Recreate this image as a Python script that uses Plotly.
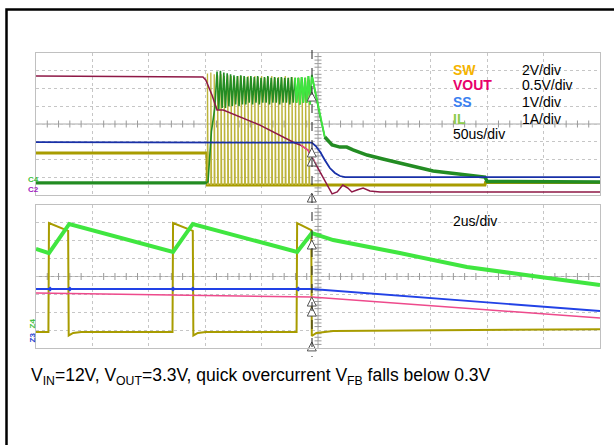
import plotly.graph_objects as go

W, H = 614, 445

# ---------------- data (time and amplitude in scope divisions) ----------------
# Upper window, 50us/div
TOP_VOUT_T = [0, 2.96, 3.01, 3.12, 3.21, 3.32, 3.97, 4.59, 4.70, 4.82, 4.95, 5.07, 5.16, 5.25,
              5.34, 5.44, 5.53, 5.60, 5.69, 5.80, 5.92, 6.10, 10]
TOP_VOUT_V = [6.70, 6.65, 6.48, 5.63, 4.79, 4.79, 3.94, 2.93, 2.80, 2.54, 1.80, 1.13, 0.56, 0.06,
              0.17, 0.56, 0.39, 0.17, 0.28, 0.39, 0.23, 0.17, 0.17]

TOP_SS_T = [0, 4.89, 4.96, 5.04, 5.12, 5.21, 5.30, 5.39, 5.48, 10]
TOP_SS_V = [2.98, 2.95, 2.76, 2.42, 1.97, 1.52, 1.24, 1.07, 1.01, 1.01]

TOP_SW_BASE_T = [0, 3.03, 3.04, 7.96, 7.97, 10]
TOP_SW_BASE_V = [2.37, 2.37, 0.56, 0.56, 0.70, 0.70]
SW_PULSE_T = [3.04, 3.10, 3.16, 3.22, 3.28, 3.34, 3.40, 3.46, 3.52, 3.58, 3.64, 3.70, 3.76,
              3.82, 3.88, 3.94, 4.00, 4.06, 4.12, 4.18, 4.24, 4.30, 4.36, 4.42, 4.48, 4.54,
              4.60, 4.66, 4.72, 4.78, 4.84]
SW_PULSE_HI = [6.85, 6.90, 6.80, 6.75, 6.80, 6.70, 6.75, 6.70, 6.65, 6.70, 6.70, 6.65, 6.70,
               6.60, 6.70, 6.65, 6.70, 6.60, 6.65, 6.70, 6.60, 6.65, 6.60, 6.70, 6.60, 6.65,
               6.60, 6.60, 6.55, 6.60, 6.50]
SW_PULSE_LO = 0.56

TOP_IL_PRE_T = [0, 3.02, 3.05, 3.11, 3.17]
TOP_IL_PRE_V = [0.68, 0.68, 0.75, 3.57, 4.90]
IL_PEAK_T = [3.21, 3.27, 3.33, 3.39, 3.45, 3.51, 3.57, 3.63, 3.69, 3.75, 3.81, 3.87, 3.93, 3.99,
             4.05, 4.11, 4.17, 4.23, 4.29, 4.35, 4.41, 4.47, 4.53, 4.59, 4.65, 4.71, 4.77, 4.83, 4.89]
IL_PEAK_V = [6.95, 7.00, 6.90, 6.85, 6.80, 6.75, 6.70, 6.75, 6.70, 6.65, 6.70, 6.65, 6.70, 6.60,
             6.65, 6.70, 6.60, 6.65, 6.60, 6.65, 6.60, 6.60, 6.65, 6.60, 6.60, 6.65, 6.60, 6.70, 6.76]
IL_VALLEY_T = [3.24, 3.30, 3.36, 3.42, 3.48, 3.54, 3.60, 3.66, 3.72, 3.78, 3.84, 3.90, 3.96, 4.02,
               4.08, 4.14, 4.20, 4.26, 4.32, 4.38, 4.44, 4.50, 4.56, 4.62, 4.68, 4.74, 4.80, 4.86]
IL_VALLEY_V = [4.80, 4.90, 4.90, 5.00, 5.00, 5.10, 5.00, 5.10, 5.10, 5.20, 5.10, 5.20, 5.10, 5.20,
               5.20, 5.10, 5.20, 5.20, 5.10, 5.20, 5.20, 5.10, 5.20, 5.20, 5.10, 5.20, 5.20, 5.10]
TOP_IL_POST_T = [5.04, 5.12, 5.25, 5.39, 5.51, 5.62, 5.87, 6.15, 6.45, 6.76, 7.04, 7.34, 7.64, 7.96, 8.00, 10]
TOP_IL_POST_V = [4.39, 3.27, 2.82, 2.70, 2.70, 2.54, 2.25, 2.03, 1.80, 1.58, 1.35, 1.24, 1.13, 1.01, 0.76, 0.73]

ZOOM_WIN = [4.70, 5.10]   # part of the upper window shown below
CURSOR_T = 4.89
CURSOR_TOP = [5.80, 2.65, 2.14, 0.11]
CURSOR_BOT = [6.04, 2.85, 2.29, 0.34]

# Lower window, 2us/div
BOT_IL_T = [0, 0.23, 0.59, 2.43, 2.78, 4.63, 4.89, 5.27, 6.45, 7.64, 8.81, 10]
BOT_IL_V = [5.54, 5.31, 6.94, 5.37, 6.94, 5.37, 6.43, 6.04, 5.31, 4.53, 4.03, 3.52]

BOT_SW_T = [0, 0.22, 0.23, 0.35, 0.57, 0.58, 0.66, 0.80, 2.42, 2.43, 2.55, 2.78, 2.79,
            2.87, 3.01, 4.62, 4.63, 4.73, 4.88, 4.89, 4.97, 5.27, 6.45, 10]
BOT_SW_V = [0.90, 0.90, 6.99, 6.85, 6.55, 0.70, 0.84, 0.90, 0.90, 6.99, 6.85, 6.55, 0.70,
            0.84, 0.90, 0.90, 6.99, 6.85, 6.60, 0.67, 0.84, 0.95, 0.98, 1.05]

BOT_SS_T = [0, 4.89, 10]
BOT_SS_V = [3.30, 3.30, 2.07]
SS_MARK_T = [0.25, 0.60, 2.43, 2.78, 4.65]

BOT_VOUT_T = [0, 4.89, 10]
BOT_VOUT_V = [3.08, 2.85, 1.68]

LEGEND_NAMES = ["SW", "VOUT", "SS", "IL"]
LEGEND_SCALES = ["2V/div", "0.5V/div", "1V/div", "1A/div"]
TOP_TIMEBASE = "50us/div"
BOT_TIMEBASE = "2us/div"
CAPTION = "V<sub>IN</sub>=12V, V<sub>OUT</sub>=3.3V, quick overcurrent V<sub>FB</sub> falls below 0.3V"

# ---------------- styling ----------------
C_SW = "#A89C00"
C_SW_PULSE = "#BDB43A"
C_VOUT_TOP = "#8E1846"
C_VOUT = "#EE4A8C"
C_SS_TOP = "#1830A8"
C_SS = "#2242E6"
C_IL_TOP = "#238C23"
C_IL = "#40E640"
LEG_COLORS = ["#F5B400", "#E8006A", "#3A80F0", "#8CCB4A"]
FONT = "Liberation Sans, Arial, sans-serif"

def px_x(p):
    return p / W

def px_y(p):
    return 1 - p / H

XDOM = [px_x(36), px_x(600)]
TOP_DOM = [px_y(195), px_y(53)]
BOT_DOM = [px_y(348), px_y(205)]

fig = go.Figure()

def window(ts, vs, lo, hi):
    xs, ys = [], []
    for i, t in enumerate(ts):
        if lo - 0.13 <= t <= hi + 0.05:
            xs.append(t)
            ys.append(vs[i])
    return xs, ys

def add(x, y, color, width, axis="top", mode="lines", **kw):
    fig.add_trace(go.Scatter(x=x, y=y, mode=mode, line=dict(color=color, width=width),
                             xaxis="x" if axis == "top" else "x2",
                             yaxis="y" if axis == "top" else "y2",
                             hoverinfo="skip", showlegend=False, **kw))

# decorations: center cross with minor ticks
for ax in ("top", "bot"):
    xr, yr = ("x", "y") if ax == "top" else ("x2", "y2")
    fig.add_shape(type="line", xref=xr, yref=yr, x0=0, x1=10, y0=4, y1=4,
                  line=dict(color="#A8A8A8", width=1), layer="below")
    fig.add_shape(type="line", xref=xr, yref=yr, x0=5, x1=5, y0=0, y1=8,
                  line=dict(color="#A8A8A8", width=1), layer="below")
    tx = [i * 0.2 for i in range(1, 50) if i % 5]
    ty = [i * 0.2 for i in range(1, 40) if i % 5]
    add(tx, [4] * len(tx), "#999", 1, ax, mode="markers",
        marker=dict(symbol="line-ns", size=5, line=dict(color="#9A9A9A", width=1)))
    add([5] * len(ty), ty, "#999", 1, ax, mode="markers",
        marker=dict(symbol="line-ew", size=5, line=dict(color="#9A9A9A", width=1)))

# ---- upper window traces ----
add(TOP_SW_BASE_T, TOP_SW_BASE_V, C_SW, 3)
px, py = [], []
for t, h in zip(SW_PULSE_T, SW_PULSE_HI):
    px += [t, t, t + 0.012, t + 0.012, None]
    py += [SW_PULSE_LO, h, h, SW_PULSE_LO, None]
add(px, py, C_SW_PULSE, 1.3)

il_t = list(TOP_IL_PRE_T)
il_v = list(TOP_IL_PRE_V)
for i in range(len(IL_PEAK_T)):
    il_t.append(IL_PEAK_T[i]); il_v.append(IL_PEAK_V[i])
    if i < len(IL_VALLEY_T):
        il_t.append(IL_VALLEY_T[i]); il_v.append(IL_VALLEY_V[i])
il_t += TOP_IL_POST_T
il_v += TOP_IL_POST_V
add(TOP_IL_PRE_T[:2], TOP_IL_PRE_V[:2], C_IL_TOP, 3.2)
add(il_t, il_v, C_IL_TOP, 1.6)
# thicker band after the burst
add(TOP_IL_POST_T[1:], TOP_IL_POST_V[1:], C_IL_TOP, 3.5)
wx, wy = window(il_t, il_v, *ZOOM_WIN)
add(wx, wy, C_IL, 1.8)

add(TOP_VOUT_T, TOP_VOUT_V, C_VOUT_TOP, 1.5)
wx, wy = window(TOP_VOUT_T, TOP_VOUT_V, ZOOM_WIN[0] + 0.12, ZOOM_WIN[1] - 0.1)
add(wx, wy, C_VOUT, 1.5)
add(TOP_SS_T, TOP_SS_V, C_SS_TOP, 1.8)

# ---- lower window traces ----
add(BOT_SW_T, BOT_SW_V, C_SW, 2, "bot")
add(BOT_IL_T, BOT_IL_V, C_IL, 4, "bot")
add(BOT_VOUT_T, BOT_VOUT_V, C_VOUT, 1.5, "bot")
add(BOT_SS_T, BOT_SS_V, C_SS, 1.8, "bot")
add(SS_MARK_T, [BOT_SS_V[0]] * len(SS_MARK_T), C_SS, 1, "bot", mode="markers",
    marker=dict(symbol="diamond", size=4, color=C_SS))

# cursor
fig.add_shape(type="line", xref="paper", yref="paper", x0=px_x(312), x1=px_x(312),
              y0=px_y(50), y1=px_y(357), line=dict(color="#222", width=1, dash="dash"))
arrow = dict(symbol="arrow-up", size=9, color="white", line=dict(color="#555", width=1))
add([CURSOR_T] * 4, CURSOR_TOP, "#555", 1, "top", mode="markers", marker=arrow, cliponaxis=False)
add([CURSOR_T] * 4, CURSOR_BOT, "#555", 1, "bot", mode="markers", marker=arrow, cliponaxis=False)

# channel markers
add([10.09], [2.14], "#E8006A", 1, "top", mode="markers",
    marker=dict(symbol="triangle-left", size=6, color="#E8207A"), cliponaxis=False)
add([5.0], [-0.25], "#E8006A", 1, "top", mode="markers",
    marker=dict(symbol="triangle-up", size=6, color="#E8207A"), cliponaxis=False)
add([7.59], [-0.28], "#30D030", 1, "bot", mode="markers",
    marker=dict(symbol="triangle-up", size=6, color="#30D030"), cliponaxis=False)

# ---------------- layout ----------------
axis_common = dict(range=[0, 10], dtick=1, tick0=0, showgrid=True, gridcolor="#C6C6C6",
                   griddash="dot", gridwidth=1, showline=True, linecolor="#C0C0C0",
                   mirror=True, zeroline=False, showticklabels=False, ticks="", fixedrange=True)
yaxis_common = dict(axis_common, range=[0, 8])

ann = []
def text(x, y, s, color="black", size=14, bold=False, **kw):
    ann.append(dict(x=px_x(x), y=px_y(y), xref="paper", yref="paper", text=f"<b>{s}</b>" if bold else s,
                    showarrow=False, xanchor="left", yanchor="middle",
                    font=dict(family=FONT, size=size, color=color), **kw))

rows = [70, 85, 102, 119]
for name, scale, col, y in zip(LEGEND_NAMES, LEGEND_SCALES, LEG_COLORS, rows):
    text(451, y, name, col, bold=True)
    text(520, y, scale)
text(451, 134, TOP_TIMEBASE)
text(451, 221, BOT_TIMEBASE)
text(29, 376, CAPTION, size=17.5)
text(26, 179, "C4", "#40C040", size=8, bold=True)
text(26, 189, "C2", "#A020C0", size=8, bold=True)
text(25, 324, "Z4", "#40C040", size=8, bold=True, textangle=-90)
text(25, 338, "Z3", "#2040D0", size=8, bold=True, textangle=-90)
# descender of the clipped page heading above the frame
ann.append(dict(x=px_x(177), y=px_y(1.5), xref="paper", yref="paper", text="<b>g</b>",
                showarrow=False, xanchor="left", yanchor="bottom",
                font=dict(family=FONT, size=20, color="black")))

fig.update_layout(
    width=W, height=H, margin=dict(l=0, r=0, t=0, b=0),
    paper_bgcolor="white", plot_bgcolor="white",
    xaxis=dict(axis_common, domain=XDOM, anchor="y"),
    yaxis=dict(yaxis_common, domain=TOP_DOM, anchor="x"),
    xaxis2=dict(axis_common, domain=XDOM, anchor="y2"),
    yaxis2=dict(yaxis_common, domain=BOT_DOM, anchor="x2"),
    annotations=ann,
    shapes=list(fig.layout.shapes) + [dict(type="rect", xref="paper", yref="paper",
                 x0=px_x(6.5), x1=px_x(700), y0=px_y(700), y1=px_y(9.5),
                 line=dict(color="black", width=2.5), fillcolor="rgba(0,0,0,0)")],
    showlegend=False,
)

fig.write_html("out.html", config={"displayModeBar": False},
               post_script="document.body.style.margin='0px';")
